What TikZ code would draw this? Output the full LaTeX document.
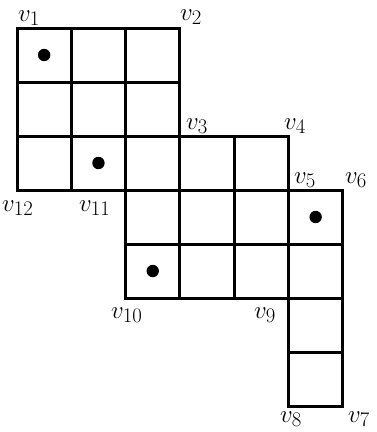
\documentclass[tikz,border=0pt]{standalone}
\begin{document}
\begin{tikzpicture}[x=1pt,y=-1pt,
  gridline/.style={line width=3pt,line cap=rect,line join=miter},
  dot/.style={fill=black},
  vlab/.style={inner sep=0pt,anchor=base west,font=\fontsize{28.5}{30}\selectfont}]
\useasboundingbox (0,0) rectangle (377,432);
\def\sx{54.3}\def\sy{54}
% cells (col,row)
\foreach \c/\r in {0/0,1/0,2/0,0/1,1/1,2/1,0/2,1/2,2/2,3/2,4/2,2/3,3/3,4/3,5/3,2/4,3/4,4/4,5/4,5/5,5/6}{
  \draw[gridline] ({17+\c*\sx},{28+\r*\sy}) rectangle ({17+(\c+1)*\sx},{28+(\r+1)*\sy});
}
% dots
\foreach \c/\r in {0/0,1/2,5/3,2/4}{
  \fill[dot] ({17+(\c+0.5)*\sx},{28+(\r+0.5)*\sy}) circle (6.2);
}
% labels
\node[vlab] (v1) at (18,21) {$v_1$};
\node[vlab] (v2) at (180,20) {$v_2$};
\node[vlab] (v3) at (186,129) {$v_3$};
\node[vlab] (v4) at (284,129) {$v_4$};
\node[vlab] (v5) at (294,183) {$v_5$};
\node[vlab] (v6) at (345,183) {$v_6$};
\node[vlab] (v12) at (2,211) {$v_{12}$};
\node[vlab] (v11) at (79,211) {$v_{11}$};
\node[vlab] (v10) at (111,318) {$v_{10}$};
\node[vlab] (v9) at (254,318) {$v_9$};
\node[vlab] (v8) at (280,422) {$v_8$};
\node[vlab] (v7) at (348,422) {$v_7$};
\end{tikzpicture}
\end{document}
